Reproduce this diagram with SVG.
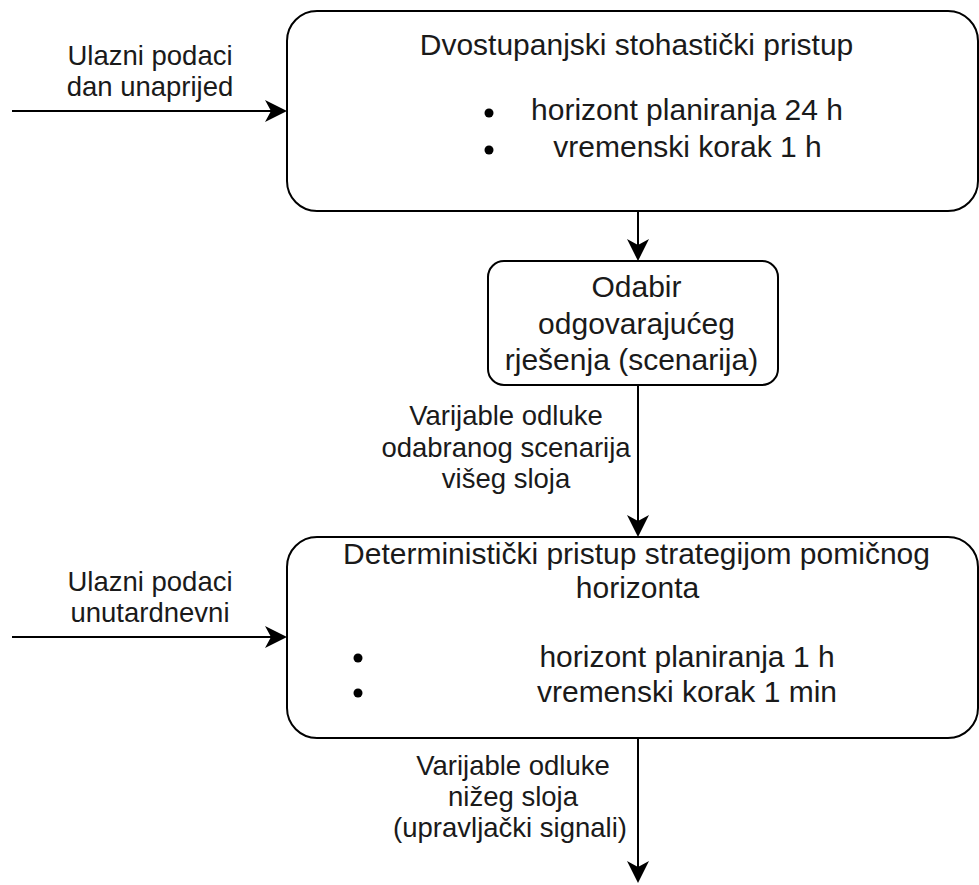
<svg xmlns="http://www.w3.org/2000/svg" width="979" height="885" viewBox="0 0 979 885">
<style>
.box{fill:#fff;stroke:#000;stroke-width:2}
.t{fill:#1a1a1a;text-anchor:middle}
.bt{font-size:30px}
.lt{font-size:27.5px}
.c{fill:none;stroke:#000;stroke-width:2}
</style>
<defs>
<marker id="ah" viewBox="0 0 22 22" refX="6" refY="11" markerWidth="22" markerHeight="22" markerUnits="userSpaceOnUse" orient="auto">
<path d="M0,0 L22,11 L0,22 L6,11 Z" fill="#000"/>
</marker>
</defs>
<rect width="979" height="885" fill="#fff"/>
<g id="connectors">
<path class="c" d="M12,111 L271,111" marker-end="url(#ah)"/>
<path class="c" d="M638,211 L638,245" marker-end="url(#ah)"/>
<path class="c" d="M638,385 L638,521" marker-end="url(#ah)"/>
<path class="c" d="M12,637 L271,637" marker-end="url(#ah)"/>
<path class="c" d="M638,738 L638,867" marker-end="url(#ah)"/>
</g>
<g font-family="Arial, 'Liberation Sans', Arimo, Helvetica, sans-serif">
<g id="label-input-dayahead">
<text class="t lt" x="150" y="65">Ulazni podaci</text>
<text class="t lt" x="150" y="96">dan unaprijed</text>
</g>
<g id="node-stochastic">
<rect class="box" x="287" y="11" width="691" height="200" rx="30" ry="30"/>
<text class="t bt" x="636.5" y="55">Dvostupanjski stohastički pristup</text>
<circle cx="489" cy="113" r="4.5" fill="#000"/>
<circle cx="489" cy="150" r="4.5" fill="#000"/>
<text class="t bt" x="687" y="120">horizont planiranja 24 h</text>
<text class="t bt" x="687.5" y="157">vremenski korak 1 h</text>
</g>
<g id="node-select">
<rect class="box" x="488" y="261" width="290" height="124" rx="16" ry="16"/>
<text class="t bt" x="636.5" y="297">Odabir</text>
<text class="t bt" x="636.5" y="333.5">odgovarajućeg</text>
<text class="t bt" x="631.5" y="370">rješenja (scenarija)</text>
</g>
<g id="label-upper-vars">
<text class="t lt" x="506" y="425">Varijable odluke</text>
<text class="t lt" x="506" y="456.5">odabranog scenarija</text>
<text class="t lt" x="506" y="488">višeg sloja</text>
</g>
<g id="label-input-intraday">
<text class="t lt" x="150" y="591">Ulazni podaci</text>
<text class="t lt" x="150" y="622">unutardnevni</text>
</g>
<g id="node-deterministic">
<rect class="box" x="287" y="537" width="691" height="201" rx="30" ry="30"/>
<text class="t bt" x="636.5" y="563.5">Deterministički pristup strategijom pomičnog</text>
<text class="t bt" x="637.5" y="597.5">horizonta</text>
<circle cx="358" cy="658" r="4.5" fill="#000"/>
<circle cx="358" cy="693" r="4.5" fill="#000"/>
<text class="t bt" x="687" y="667">horizont planiranja 1 h</text>
<text class="t bt" x="687" y="702">vremenski korak 1 min</text>
</g>
<g id="label-lower-vars">
<text class="t lt" x="513" y="775">Varijable odluke</text>
<text class="t lt" x="513" y="805.5">nižeg sloja</text>
<text class="t lt" x="510" y="836.5">(upravljački signali)</text>
</g>
</g>
</svg>
